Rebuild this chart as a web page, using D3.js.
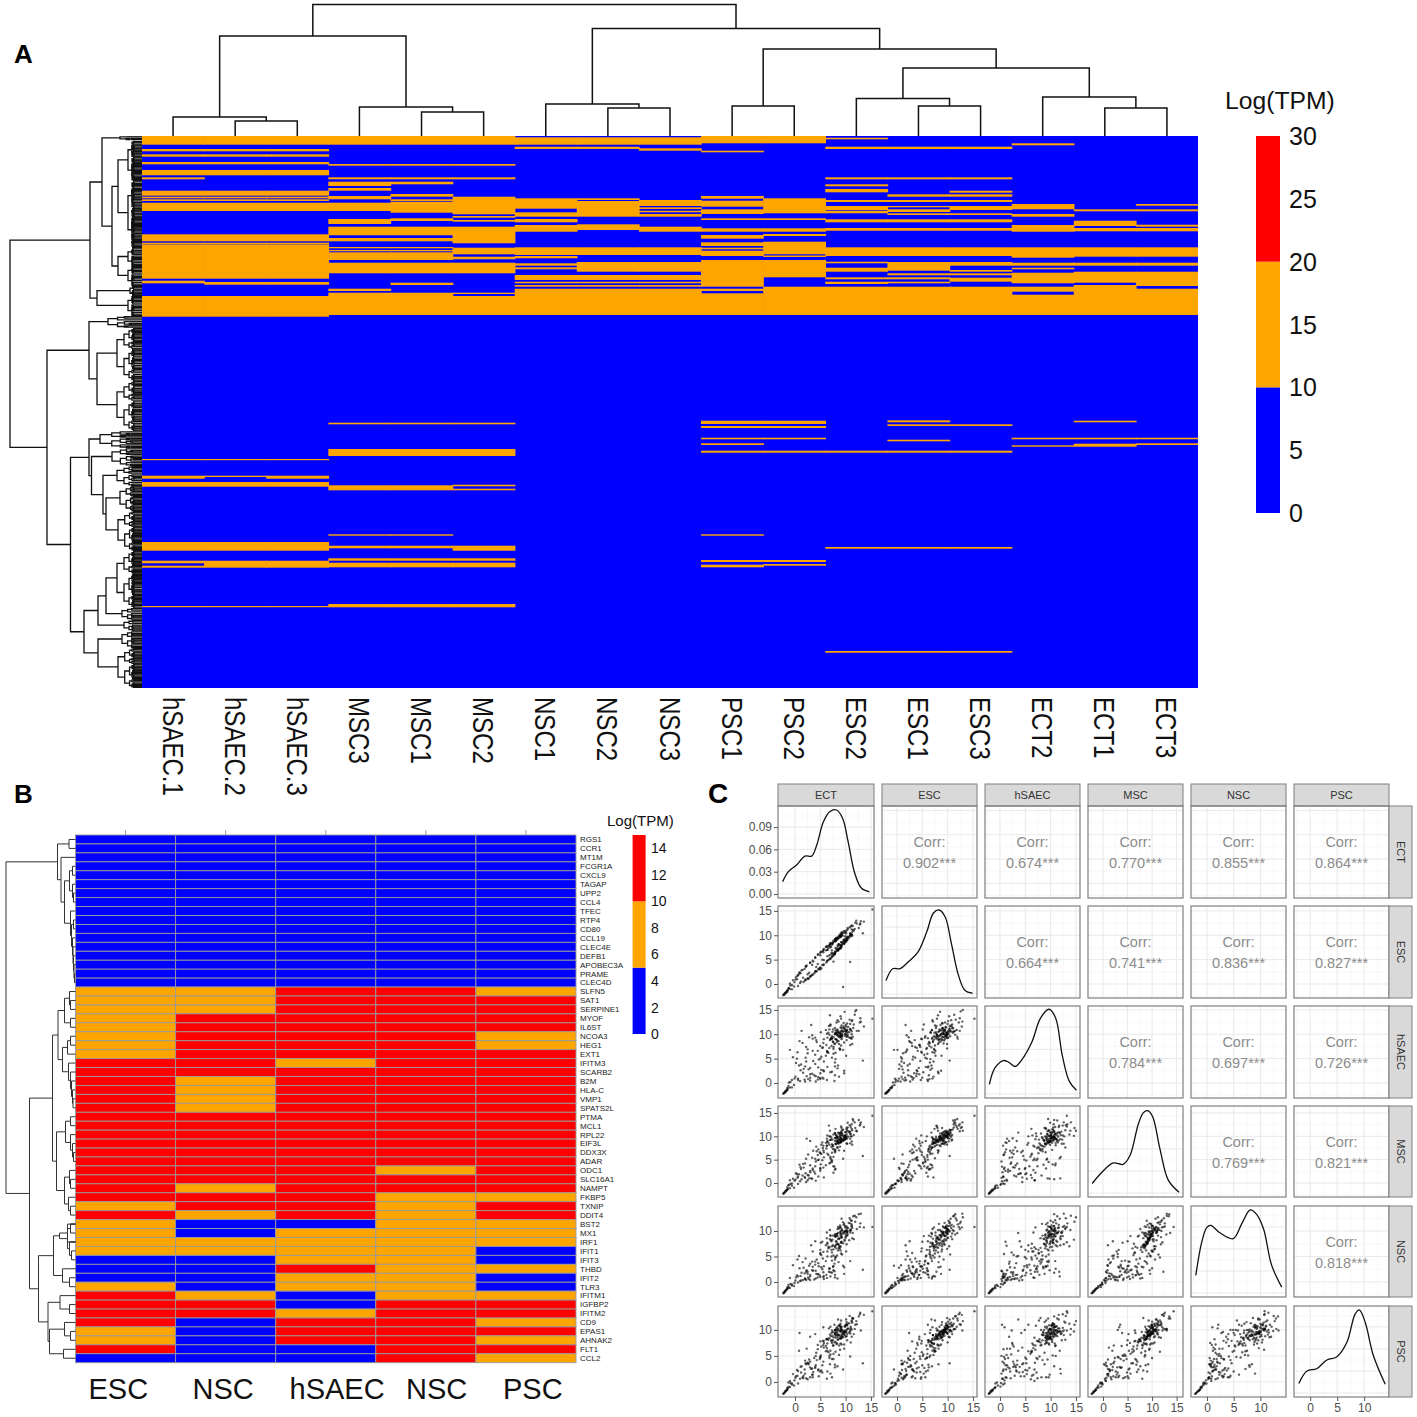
<!DOCTYPE html>
<html><head><meta charset="utf-8"><script src="https://cdn.jsdelivr.net/npm/d3@7"></script>
<style>html,body{margin:0;padding:0;background:#fff}svg{display:block}text{font-family:"Liberation Sans",Arial,sans-serif}</style></head>
<body><svg id="c" width="1417" height="1417" viewBox="0 0 1417 1417"></svg>
<script>
// ---------- Panel A data ----------
const samplesA=["hSAEC.1","hSAEC.2","hSAEC.3","MSC3","MSC1","MSC2","NSC1","NSC2","NSC3","PSC1","PSC2","ESC2","ESC1","ESC3","ECT2","ECT1","ECT3"];
const hsaecShared=[[0,8.7],[13,15.3],[18.3,20.7],[26,28.3],[34,39.3],[54.7,59.7],[60.7,62.3],[63.3,65],[66.7,75],[98.3,105.3],[106.7,108],[108.3,142.7],[160,180.7],[323,324.2],[346,350.7],[406,414.7],[470,471.2]];
const hsaec1=[[41.3,43.3],[144.7,147.3],[339.7,342.7],[424.7,427.3],[429.7,431.7]];
const hsaec2=[[146,148.7],[339.7,341],[424.7,431.7]];
const hsaec3=[[146,148.7],[339.7,342.7],[424.7,431.7]];
const msc3=[[0,8.7],[28,29.7],[41.3,43.3],[45.7,50],[52,54.7],[60,63.3],[66.7,75],[83,88],[90.7,99.3],[102,105.3],[111,112.3],[114,115.3],[116.3,124],[126.7,137.3],[152.7,155],[156.7,179],[286.7,288.3],[313,320],[349.3,354.3],[398.3,399.7],[409.7,412.3],[422.3,424.7],[426.7,431.3],[468,471.3]];
const msc1=[[0,8.7],[28,29.7],[41.3,43.3],[45.7,48.3],[58,60.7],[63.3,65],[65.7,76.7],[82.3,85],[90.7,99.3],[102,105.3],[111,112.3],[114,115.3],[116.3,124],[126.7,137.3],[146.7,149],[156.7,179],[286.7,288.3],[313,320],[349.3,354.3],[398.3,399.7],[409.7,412.3],[422.3,424.7],[426.7,431.3],[468,471.3]];
const msc2=[[0,8.7],[28,29.7],[41.3,43.3],[60.7,78.3],[80,81.7],[84,85.7],[90.7,107.3],[111.7,118.3],[120.7,123.3],[126.7,137.3],[156.7,158],[160,179],[286.7,288.3],[313,320],[348.7,350.3],[352.7,354.3],[409.7,414.7],[422.3,424.7],[426.7,431.3],[468,471.3]];
const nsc1=[[1.3,8.7],[10.7,13],[62.3,72.7],[76.3,80.7],[83,86.3],[89,95.7],[111.3,119],[120,122.3],[127.3,129.7],[131.3,133.3],[139,144],[145.7,147.3],[149,150.7],[152.7,179]];
const nsc2=[[1.3,8.7],[10.7,13],[62.3,64],[65,80.7],[88.3,94],[111.3,119],[126,135.7],[139,144],[145.7,147.3],[149,150.7],[152.7,179]];
const nsc3=[[1.3,8.7],[12.3,14.7],[64,70],[71.3,73],[74.7,76.3],[78,80.7],[90.7,95.7],[111.3,119],[126,135.7],[139,144],[145.7,147.3],[149,150.7],[152.7,179]];
const psc1=[[0,7.3],[14.7,16.3],[60,62.7],[64.7,70.7],[73.3,78],[82.3,84],[92.3,95.7],[99,102.7],[106.3,110],[111.7,113.3],[114.7,120],[124,150.7],[152.7,155],[157.3,179],[284.7,288],[290,292],[301.7,303.3],[307.3,309],[314.7,316.7],[398.3,399.7],[424,426],[428.7,431.3]];
const psc2=[[0,7.3],[62.3,77.3],[82.3,84],[92.3,95.7],[98,100],[105.7,118.3],[119.5,121],[124,141.3],[150.7,179],[284.7,288],[290,292],[301.7,303.3],[314.7,316.7],[424,426],[428,429.7]];
const esc2=[[1.7,3.3],[10.7,13],[41.3,43.3],[48.3,50.3],[53,56.3],[64,66],[70,74],[74.7,77.3],[83.3,86.3],[92,94.7],[111.3,120],[125.7,127.3],[131.7,135.7],[141.3,143.3],[145.7,148],[150.7,179],[314.7,316.7],[411,412.7],[515,516.7]];
const esc1=[[10.7,13],[41.3,43.3],[58.3,60.7],[64,66],[70,71.3],[73.3,76],[77.3,79],[83.3,86.3],[92,94.7],[111.3,120],[126,134.7],[137.3,139.3],[141.3,143.3],[145.7,147.3],[150.7,179],[284.3,286.3],[288.3,290],[303.7,305.3],[314.7,316.7],[411,412.7],[515,516.7]];
const esc3=[[10.7,13],[41.3,43.3],[54.7,56.7],[58.3,60.7],[64,66],[70,74],[77.3,79],[83.3,86.3],[92,94.7],[111.3,120],[126,129.7],[134,135.7],[137.3,139.3],[141.7,145.7],[150.7,179],[288.3,290],[314.7,316.7],[411,412.7],[515,516.7]];
const ect2=[[7.3,9.3],[68,73.3],[78,80.7],[89,95.7],[111.3,121.7],[126.7,129.7],[131.7,133.3],[136.7,147.3],[150.7,155.7],[158.7,179],[301.7,303.3],[309.3,310.7]];
const ect1=[[73.3,75.3],[84.7,90],[92,95.3],[111.3,120.7],[126.7,129.7],[135.7,146.7],[149,179],[284.7,286.3],[301.7,303.3],[307.7,310.7]];
const ect3=[[68,69.7],[73.3,75.3],[88.7,90.7],[92,95.3],[111.3,120.7],[126.7,129.7],[135.7,150],[152.7,179],[301.7,303.3],[307.3,309]];
const bandsA=[hsaecShared.concat(hsaec1),hsaecShared.concat(hsaec2),hsaecShared.concat(hsaec3),msc3,msc1,msc2,nsc1,nsc2,nsc3,psc1,psc2,esc2,esc1,esc3,ect2,ect1,ect3];
const lowValueA=5, midValueA=15;
const legendTicksA=[0,5,10,15,20,25,30];
// column dendrogram: [height, left, right]; numbers are sample indices
const treeTopA=[131.5,[100,[19,0,[15,1,2]],[29,3,[24,4,5]]],[107.5,[32,6,[28,7,8]],[87,[30,9,10],[68,[37.5,11,[30,12,13]],[39,14,[28,15,16]]]]]];
// row dendrogram: [height,left,right]; with two numbers = a terminal cluster over that row range
const treeLeftA=[132,
 [52,[40,[22,0,4],[30,[24,[14,5,45],[14,45,112]],[24,[14,112,130],[14,130,150]]]],[45,[12,150,160],[14,160,180]]],
 [95,[53,[34,180,192],[45,[25,192,245],[25,245,295]]],
  [71.5,[53,[42,295,312],[50.5,[30,312,330],[39,[25,330,350],[36,[22,350,375],[24,375,415]]]]],
        [58,[44,[36,[25,415,472],[20,472,484]],[18,484,495]],[44,[20,495,512],[24,512,552]]]]]];

// ---------- Panel B data ----------
const groupsB=["ESC","NSC","hSAEC","NSC","PSC"];
const genesB=["RGS1","CCR1","MT1M","FCGR1A","CXCL9","TAGAP","UPP2","CCL4","TFEC","RTP4","CD80","CCL19","CLEC4E","DEFB1","APOBEC3A","PRAME","CLEC4D","SLFN5","SAT1","SERPINE1","MYOF","IL6ST","NCOA3","HEG1","EXT1","IFITM3","SCARB2","B2M","HLA-C","VMP1","SPATS2L","PTMA","MCL1","RPL22","EIF3L","DDX3X","ADAR","ODC1","SLC16A1","NAMPT","FKBP5","TXNIP","DDIT4","BST2","MX1","IRF1","IFIT1","IFIT3","THBD","IFIT2","TLR3","IFITM1","IGFBP2","IFITM2","CD9","EPAS1","AHNAK2","FLT1","CCL2"];
const escB =[2,2,2,2,2,2,2,2,2,2,2,2,2,2,2,2,2, 8,8,8,8,8,8,8,8,12,12,12,12,12,12,12,12,12,12,12,12,12,12,12,12,8,12, 8,8,8,8,2,2,2,8,12,12,12,12,8,8,12,2];
const nscB1=[2,2,2,2,2,2,2,2,2,2,2,2,2,2,2,2,2, 8,8,8,12,12,12,12,12,12,12,8,8,8,8,12,12,12,12,12,12,12,12,8,12,12,8, 2,2,8,8,2,2,2,2,8,12,12,2,2,2,2,2];
const hsaeB=[2,2,2,2,2,2,2,2,2,2,2,2,2,2,2,2,2, 12,12,12,12,12,12,12,12,8,12,12,12,12,12,12,12,12,12,12,12,12,12,12,12,12,12, 2,8,8,8,8,12,8,8,2,2,8,12,12,12,2,2];
const nscB2=[2,2,2,2,2,2,2,2,2,2,2,2,2,2,2,2,2, 12,12,12,12,12,12,12,12,12,12,12,12,12,12,12,12,12,12,12,12,8,12,12,8,8,8, 8,8,8,8,8,8,8,8,8,12,12,12,12,12,12,12];
const pscB =[2,2,2,2,2,2,2,2,2,2,2,2,2,2,2,2,2, 8,12,12,12,12,8,8,12,12,12,12,12,12,12,12,12,12,12,12,12,12,12,12,8,12,12, 8,8,8,2,2,8,2,2,8,12,12,8,12,8,12,8];
const matrixB=[escB,nscB1,hsaeB,nscB2,pscB];
const legendTicksB=[0,2,4,6,8,10,12,14];
const treeLeftB=[69.5,
 [18,[6.5,0,1],[14.5,2,[11,[6,[3,3,4],[3,5,[2,6,7]]],[5,8,[4,[2,9,10],[3,11,[2.5,12,[2,13,[1.5,14,[1,15,16]]]]]]]]]],
 [46,[23,[17.5,[11,[6,17,[5,18,19]],[5,20,21]],[13,[8,[5,22,23],24],[7,25,[5,26,[4,27,[3,28,[2.5,29,30]]]]]]],
       [19,[10,[5,31,32],[5,33,[3,34,[2,35,36]]]],[11,[6,37,[5,38,39]],[7,40,[5,41,42]]]]],
      [37,[22,[16,[8,[5,43,44],[6,45,[4,46,47]]],[8,[5,43.5,43.5],[5,45.5,45.5]]],[13,48,[6,49,50]]],
          [27.5,[15.5,51,[6,52,53]],[26,[11,54,[5,55,56]],[12,57,58]]]]]];

// ---------- Panel C data (one value per transcript) ----------
const varsC=["ECT","ESC","hSAEC","MSC","NSC","PSC"];
const corrECT=["0.902","0.674","0.770","0.855","0.864"];
const corrESC=["0.664","0.741","0.836","0.827"];
const corrHSAEC=["0.784","0.697","0.726"];
const corrMSC=["0.769","0.821"];
const corrNSC=["0.818"];
const ectVals=[-2.3,-2.2,-2.1,-2.0,-1.9,-1.8,-1.7,-1.6,-1.5,-1.4,
-1.0,-1.5,-0.2,-1.2,-0.6,-0.6,-1.3,-0.1,-0.9,0.1,
1.0,0.2,0.6,2.0,1.1,-1.0,3.0,1.9,2.0,3.4,
2.5,4.1,1.7,0.6,2.2,3.8,-0.4,3.0,2.6,1.5,
5.0,0.5,4.1,2.2,3.5,4.6,0.8,5.4,3.0,4.0,
1.3,5.7,3.5,4.9,4.6,0.9,6.3,2.1,7.0,3.2,
4.7,5.0,6.2,4.0,2.3,7.3,2.7,6.6,5.6,5.2,
7.6,5.6,5.1,3.0,7.0,5.7,4.3,7.8,6.4,8.4,
4.0,6.1,7.9,5.0,8.5,6.8,8.9,4.5,6.9,8.0,
7.8,6.3,7.3,8.6,5.2,7.0,9.0,7.6,9.2,5.5,
6.8,8.3,7.5,8.7,7.2,6.9,9.1,8.0,7.6,6.3,
9.5,8.4,7.9,9.2,7.9,10.0,6.7,8.1,8.9,9.8,
9.0,7.9,8.9,9.7,8.6,10.3,9.1,7.2,7.6,8.1,
10.0,8.5,9.5,10.1,7.9,9.1,11.0,8.4,9.7,10.7,
9.3,10.3,9.5,8.7,9.6,10.2,8.2,11.2,7.9,11.0,
9.8,10.6,9.0,11.2,11.3,9.2,9.7,10.2,11.2,10.4,
10.9,11.3,11.0,10.1,11.8,11.2,11.6,10.8,12.2,11.5,
11.9,12.6,12.8,12.1,11.4,12.9,13.0,13.4,13.6,15.3,
6.6,8.4,7.4,9.1,8.0,8.3,9.8,8.9,10.1,9.2,
8.8,7.9,9.6,8.6,9.9,10.2,9.0,10.9,9.0,9.9,
5.6,7.3,7.2,6.4,8.2,7.1,9.2,8.2,9.4,10.5,
1.2,2.5,3.4,4.2,5.0,5.7,6.4,7.0,7.5,8.0,
0.4,1.6,2.8,3.6,4.5,5.4,6.1,6.8,7.3,8.7,
8.3,7.5,9.2,9.6,8.8,10.2,10.0,10.9,6.4,8.6,
8.0,8.5,8.4,9.3,9.0,9.2,9.9,10.3,10.9,10.4];
const escVals=[-2.3,-2.1,-2.2,-1.9,-1.8,-1.9,-1.6,-1.5,-1.6,-1.2,
-1.0,-1.3,-0.5,-0.8,-1.1,-0.2,-0.9,0.4,-0.3,0.9,
0.2,1.4,-0.4,0.7,2.2,0.1,1.6,3.1,0.9,1.9,
1.2,2.7,0.4,1.8,3.6,2.2,0.8,4.3,1.1,2.9,
3.4,1.7,2.6,0.9,4.8,3.0,2.1,3.9,1.5,5.4,
2.8,4.0,1.9,3.3,6.1,2.4,4.7,3.6,5.2,1.7,
3.1,6.4,4.4,2.5,3.8,5.6,1.1,4.9,7.0,3.2,
5.8,3.9,6.6,4.4,5.3,7.2,2.6,6.1,4.8,6.9,
5.5,7.6,6.3,3.0,6.8,5.1,7.4,6.0,8.2,6.6,
6.2,7.8,5.6,7.1,6.6,8.4,7.3,6.0,7.7,6.8,
7.9,6.9,8.6,7.2,6.1,8.1,7.5,6.7,8.9,7.6,
8.3,7.0,9.2,8.0,6.5,8.7,7.8,9.4,7.3,8.5,
7.6,8.9,9.8,8.2,7.1,9.0,10.1,8.4,4.6,9.3,
8.6,9.6,10.4,8.8,9.1,7.9,10.0,9.4,8.3,9.7,
10.5,9.2,-0.6,9.9,10.8,8.9,9.5,10.2,6.2,9.8,
10.9,9.4,10.3,11.2,9.9,10.6,8.7,11.0,10.1,11.5,
4.5,10.7,11.8,10.4,11.3,12.0,10.9,11.6,12.4,11.1,
12.6,11.5,12.2,13.0,11.9,12.4,12.9,10.4,12.8,15.3,
7.4,7.9,8.2,8.6,8.8,9.2,9.0,9.6,9.3,10.0,
8.0,8.7,9.1,9.4,9.8,9.5,10.0,10.3,9.7,10.5,
6.5,6.9,6.4,7.0,7.3,7.7,8.5,9.0,9.9,9.6,
0.5,2.0,3.9,3.5,5.9,4.9,5.7,7.5,6.3,7.4,
1.0,1.3,2.3,4.6,4.1,5.0,6.9,5.9,8.1,8.1,
7.1,8.4,8.0,8.9,9.9,9.1,10.7,10.0,7.0,8.2,
8.8,7.7,9.3,8.5,9.7,10.1,9.2,9.7,10.4,11.2];
const hsaecVals=[-2.2,-2.1,-2.0,-1.9,-1.7,-1.8,-1.5,-1.4,-1.5,-1.1,
-0.9,-1.0,-0.4,0.1,-0.9,0.6,-0.6,0.9,0.2,1.3,
0.4,4.1,0.9,0.3,2.6,6.8,1.1,0.7,3.4,9.8,
6.1,1.4,2.9,0.6,7.4,1.6,5.3,3.1,0.8,8.2,
2.0,6.3,0.3,4.4,9.1,1.2,3.6,7.2,0.5,5.8,
10.7,2.4,6.6,1.0,3.2,8.6,0.6,5.2,2.2,11.9,
4.8,0.8,7.8,3.9,1.4,9.6,2.8,6.2,0.9,5.4,
7.0,2.6,10.4,1.8,12.0,4.4,8.4,0.4,6.4,3.0,
9.3,5.6,1.6,7.6,3.6,11.0,6.8,0.7,8.8,4.9,
8.0,10.1,5.2,12.6,2.7,8.9,9.6,6.0,11.3,7.3,
9.9,10.8,8.5,1.3,9.2,13.9,7.7,10.3,9.4,6.6,
10.6,12.9,8.1,9.7,4.2,10.0,11.7,9.0,7.0,14.6,
9.5,11.3,10.2,2.0,8.6,12.2,10.7,9.1,7.4,10.0,
11.9,9.8,10.5,5.6,10.1,13.2,9.3,11.0,8.3,10.4,
9.6,10.9,6.8,10.2,11.6,8.8,12.4,10.0,3.4,9.2,
11.2,9.4,13.7,10.6,8.0,11.8,2.5,10.3,12.7,9.9,
7.8,12.9,10.9,11.6,14.0,9.1,12.0,13.0,10.7,11.3,
14.7,10.7,12.4,15.0,9.5,13.3,12.6,4.6,11.6,13.2,
10.3,9.8,10.5,9.9,10.8,10.2,11.1,9.6,10.7,10.1,
9.4,10.0,11.3,10.6,9.7,10.9,10.4,11.0,9.9,10.7,
8.2,9.1,7.6,9.3,8.9,9.2,9.7,10.4,9.9,11.5,
3.8,6.9,1.9,8.8,5.0,9.0,3.3,11.8,8.4,6.2,
5.0,2.1,9.4,4.5,6.6,1.1,10.9,7.2,2.3,8.0,
8.4,11.0,9.0,12.3,7.1,9.5,10.6,12.1,6.3,9.6,
9.0,10.4,8.7,10.8,11.4,9.3,10.1,9.7,11.1,10.5];
const mscVals=[-2.3,-2.2,-2.0,-2.0,-1.8,-1.7,-1.6,-1.5,-1.4,-1.3,
-1.1,-0.9,-1.0,-0.4,-0.6,-0.1,-0.5,0.5,-0.2,0.7,
0.4,2.1,-0.2,1.1,3.4,0.6,2.6,1.3,4.2,0.9,
1.7,0.5,3.3,1.4,5.2,2.4,0.9,3.8,6.1,1.6,
2.6,1.1,4.6,0.2,3.1,7.2,1.9,4.9,2.3,3.6,
0.8,5.5,2.8,6.6,1.4,3.9,8.0,2.1,4.4,1.0,
5.0,3.0,7.4,2.0,9.5,4.5,1.6,6.0,3.3,8.2,
2.2,7.0,4.0,9.0,5.6,1.2,6.8,3.5,10.2,7.6,
5.2,8.6,2.9,6.4,10.8,4.2,7.8,6.0,9.2,3.0,
7.2,9.5,4.8,8.4,6.2,10.0,8.8,5.6,9.0,7.5,
8.2,9.8,7.9,8.6,5.0,11.2,9.3,7.1,10.4,8.0,
9.1,7.6,10.6,8.9,6.6,9.6,12.3,8.3,9.4,10.1,
8.7,10.7,9.9,6.9,9.2,8.4,11.0,9.7,3.6,10.3,
9.4,8.8,11.4,10.0,9.0,12.1,10.5,8.6,9.8,10.9,
11.3,9.5,5.2,10.6,9.1,11.8,10.2,8.9,6.8,10.0,
9.3,11.1,10.4,12.6,8.2,10.7,9.6,11.5,10.0,12.9,
8.5,11.3,12.0,10.9,13.0,11.6,10.3,12.4,11.1,13.4,
11.8,13.5,12.3,11.2,13.7,12.6,13.0,5.8,12.0,14.4,
8.6,8.9,9.3,9.0,9.7,9.9,9.4,10.1,9.8,10.3,
9.2,9.6,10.2,9.5,10.0,10.4,9.7,10.5,10.8,10.2,
8.0,8.3,7.7,8.8,8.5,9.2,9.4,9.1,10.1,9.9,
3.0,0.6,5.4,7.8,3.2,6.6,9.0,5.3,7.3,11.6,
1.9,4.1,1.0,6.9,4.9,8.7,3.8,10.0,6.5,7.0,
9.6,8.1,11.8,9.3,10.6,8.5,9.9,11.0,6.3,8.8,
8.4,9.9,9.0,10.6,8.7,9.6,10.9,11.2,9.5,11.9];
const nscVals=[-2.2,-2.1,-2.0,-1.8,-1.8,-1.6,-1.5,-1.4,-1.3,-1.2,
-1.2,-1.0,-0.8,-1.0,-0.7,-0.5,-0.6,-0.2,-0.4,0.3,
0.2,0.9,-0.1,0.6,1.2,0.8,0.4,1.7,0.7,2.3,
1.6,0.7,2.8,1.1,2.0,0.5,3.3,1.4,0.9,3.9,
1.0,4.4,2.2,0.4,3.0,1.6,5.1,2.5,1.1,3.4,
1.8,0.6,6.0,1.3,3.7,2.7,0.8,4.6,1.9,7.2,
3.1,5.5,1.4,8.0,2.3,4.2,0.6,6.6,1.0,2.9,
5.2,1.9,7.7,3.6,9.0,1.2,4.4,2.1,6.0,0.7,
4.0,7.2,0.9,5.7,9.6,2.6,6.8,1.5,8.4,4.9,
3.6,8.6,1.8,7.4,5.3,9.2,6.2,2.3,7.9,4.6,
6.8,9.4,3.0,7.1,8.0,10.2,5.6,8.9,6.4,9.7,
7.6,10.4,4.4,8.8,6.9,9.9,2.0,7.3,10.7,8.3,
9.1,7.0,11.1,2.9,8.5,9.6,10.0,5.0,3.1,8.0,
8.7,10.8,11.7,6.0,9.3,7.8,10.3,9.0,11.4,8.2,
5.4,9.8,3.2,10.5,11.2,7.4,9.0,12.0,1.4,10.1,
9.5,11.6,7.0,10.9,8.6,12.4,1.6,10.2,11.0,9.3,
4.1,10.6,12.1,9.9,13.0,11.3,8.4,12.5,10.4,12.9,
11.8,13.3,10.8,12.7,9.6,11.5,13.4,2.4,10.7,10.8,
6.9,7.4,8.3,7.7,8.9,9.4,8.1,9.8,9.2,10.4,
8.6,9.0,9.7,8.4,10.0,10.6,9.4,10.1,10.8,11.0,
5.9,7.0,6.3,7.7,6.6,8.2,9.2,7.9,9.5,10.6,
0.3,2.0,4.0,1.6,6.3,3.1,5.0,1.1,9.1,4.8,
1.3,0.4,3.2,2.2,0.9,7.9,4.1,2.7,5.8,6.7,
5.2,7.2,8.8,9.9,6.5,10.9,8.9,9.7,7.5,3.9,
9.3,6.2,7.5,10.2,9.6,8.7,10.7,9.1,11.5,10.0];
const pscVals=[-2.3,-2.2,-2.1,-1.9,-1.9,-1.7,-1.7,-1.5,-1.5,-1.2,
-1.0,-1.1,-0.7,-0.9,-0.3,-0.5,-0.1,0.3,-0.2,0.8,
0.6,1.1,-0.3,1.6,2.9,0.2,0.9,2.4,4.1,1.4,
0.5,3.2,1.2,2.1,0.7,4.6,1.5,2.8,3.6,0.9,
2.0,1.2,5.0,3.4,0.9,2.4,6.0,1.8,3.9,2.7,
3.0,7.5,1.4,4.4,2.2,9.4,0.6,3.6,5.3,2.5,
1.1,4.8,8.2,2.9,6.4,0.9,3.4,5.7,10.5,2.2,
7.0,3.9,5.1,8.7,1.6,6.6,4.2,11.0,7.4,3.0,
9.2,5.9,2.8,7.8,12.0,5.0,8.5,6.3,3.4,10.0,
7.6,8.2,4.4,9.0,6.8,10.6,7.4,5.4,8.8,7.9,
8.4,7.4,9.6,5.2,8.0,9.1,11.8,7.7,8.6,6.5,
9.3,8.1,10.0,7.2,9.4,8.7,10.3,8.9,6.2,9.7,
8.3,9.9,10.8,6.4,9.0,8.0,10.5,9.4,4.4,10.1,
9.6,10.2,8.6,11.0,9.3,9.9,7.6,10.6,9.1,11.3,
10.0,9.2,2.4,10.9,9.7,11.5,10.4,8.7,3.3,10.3,
10.7,9.5,11.2,10.1,12.3,9.8,7.2,10.9,11.6,10.2,
4.9,11.4,10.6,12.0,10.2,11.8,9.2,12.7,11.1,12.2,
11.0,12.6,13.0,11.7,12.2,13.3,9.9,3.6,12.9,13.6,
8.1,8.6,8.9,8.4,9.2,9.5,9.0,9.8,9.6,10.1,
8.9,9.1,9.4,9.9,9.5,10.0,10.4,9.7,10.2,10.6,
7.1,7.5,7.8,8.3,7.3,8.8,9.1,9.6,9.3,10.3,
1.8,3.7,2.6,5.6,4.7,7.9,2.0,6.0,8.0,5.8,
2.3,0.7,4.3,1.9,7.1,3.2,6.9,4.6,9.9,7.0,
9.0,7.0,8.5,9.7,10.8,8.8,11.0,9.3,6.0,8.2,
8.5,9.2,10.0,8.8,9.6,10.6,9.9,10.9,10.0,11.2];
const densECT=[[-2.43,.0166],[-1.3,.03],[.33,.039],[1.97,.051],[3.3,.051],[4.3,.066],[5.6,.097],[6.9,.111],[8.2,.113],[9.4,.102],[10.5,.07],[11.8,.028],[13.1,.008],[14.7,.003]];
const densESC=[[-2.17,.018],[-.85,.034],[.6,.034],[2.2,.043],[4.2,.057],[5.9,.084],[7.2,.109],[8.3,.113],[9.5,.104],[10.8,.066],[12.1,.026],[13.4,.005],[14.9,.001]];
const densHSAEC=[[-2.1,.013],[-1,.035],[.66,.045],[1.65,.043],[3,.037],[4.3,.046],[6.3,.07],[8,.102],[9.7,.114],[11,.102],[12.3,.052],[13.7,.017],[15.1,.005]];
const densMSC=[[-2.2,.013],[-.27,.028],[2.1,.041],[4.1,.039],[5.5,.051],[7.2,.094],[8.2,.109],[9.1,.112],[10.1,.104],[11.6,.06],[13.3,.0175],[15.5,.001]];
const densNSC=[[-2.1,.024],[-1,.069],[-.06,.089],[.7,.092],[2.4,.082],[4.9,.074],[6.5,.094],[8.1,.113],[9.3,.107],[10.6,.087],[12.1,.038],[14,.008]];
const densPSC=[[-2.1,.013],[-.6,.03],[1.2,.033],[3.1,.045],[4.9,.049],[6.8,.069],[8.3,.107],[9.1,.113],[10.2,.096],[11.7,.051],[13.9,.012]];
const xTicksC=[[0,5,10,15],[0,5,10,15],[0,5,10,15],[0,5,10,15],[0,5,10],[0,5,10]];
const yTicksC=[[0,.03,.06,.09],[0,5,10,15],[0,5,10,15],[0,5,10,15],[0,5,10],[0,5,10]];

// ---------- Layout ----------
const svg=d3.select("#c");
const BLUE="#0000ff",ORANGE="#ffa500",RED="#ff0000";
const colourA=d3.scaleThreshold([10,20],[BLUE,ORANGE,RED]);
const colourB=d3.scaleThreshold([5,10],[BLUE,ORANGE,RED]);
function letter(t,x,y,size){svg.append("text").attr("x",x).attr("y",y).attr("font-size",size).attr("font-weight","bold").text(t);}
letter("A",14,63,26);letter("B",14,803,26);letter("C",708,803,28);

function drawTree(g,node,pt,leafPos,isFan,fan){
  if(typeof node==="number") return {p:leafPos(node),h:0};
  if(isFan&&isFan(node)) return fan(node);
  const a=drawTree(g,node[1],pt,leafPos,isFan,fan),b=drawTree(g,node[2],pt,leafPos,isFan,fan),h=node[0];
  const P=(p,hh)=>pt(p,hh).join(",");
  g.append("path").attr("d",`M${P(a.p,a.h)}L${P(a.p,h)}L${P(b.p,h)}L${P(b.p,b.h)}`);
  return {p:(a.p+b.p)/2,h};
}

// ---------- Panel A ----------
const xA=d3.scaleBand(samplesA,[142,1198]);
const yA=d3.scaleLinear([0,552],[136,688]);
const gTop=svg.append("g").attr("fill","none").attr("stroke","#111").attr("stroke-width",1.5);
const topH=d3.scaleLinear([0,131.5],[136,4.5]);
drawTree(gTop,treeTopA,(p,h)=>[p,topH(h)],i=>xA(samplesA[i])+xA.bandwidth()/2);
const leftH=d3.scaleLinear([0,132],[142,10]);
const gLeft=svg.append("g").attr("fill","none").attr("stroke","#111").attr("stroke-width",1.3);
const step=1.85;
function fanSplit(a,b,h,depth){
  if(b-a<=step){const m=(a+b)/2;gLeft.append("path").attr("d",`M${leftH(h)},${yA(m)}H142`);return m;}
  const s=a+(b-a)*(depth%2?0.62:0.4),nh=Math.max(8+depth%3,h*0.72);
  const p1=fanSplit(a,s,nh,depth+1),p2=fanSplit(s,b,nh,depth+1);
  gLeft.append("path").attr("d",`M${leftH(nh)},${yA(p1)}H${leftH(h)}V${yA(p2)}H${leftH(nh)}`);
  return (p1+p2)/2;
}
drawTree(gLeft,treeLeftA,(p,h)=>[leftH(h),yA(p)],null,
  n=>typeof n[1]==="number"&&typeof n[2]==="number",
  n=>({p:fanSplit(n[1],n[2],n[0],0),h:n[0]}));
const gHeat=svg.append("g");
gHeat.append("rect").attr("x",xA.range()[0]).attr("y",yA(0)).attr("width",xA.range()[1]-xA.range()[0]).attr("height",yA(552)-yA(0)).attr("fill",colourA(lowValueA));
samplesA.forEach((s,i)=>{
  gHeat.selectAll(null).data(bandsA[i]).join("rect").attr("x",xA(s)).attr("width",xA.bandwidth()+(i<16?.7:0))
    .attr("y",d=>yA(d[0])).attr("height",d=>yA(d[1])-yA(d[0])).attr("fill",colourA(midValueA));
});
samplesA.forEach(s=>{
  const c=xA(s)+xA.bandwidth()/2;
  svg.append("text").attr("transform",`translate(${c-10.5},697) rotate(90) scale(.83,1)`).attr("font-size",29).attr("fill","#111").text(s);
});
const legA=d3.scaleLinear([0,30],[513,136]);
[[0,10],[10,20],[20,30]].forEach(d=>svg.append("rect").attr("x",1256).attr("width",24).attr("y",legA(d[1])).attr("height",legA(d[0])-legA(d[1])).attr("fill",colourA(d[0]+1)));
svg.selectAll(null).data(legendTicksA).join("text").attr("x",1289).attr("y",d=>legA(d)).attr("dy","0.36em").attr("font-size",25).attr("fill","#111").text(d=>d);
svg.append("text").attr("x",1225).attr("y",109).attr("font-size",24.7).attr("fill","#111").text("Log(TPM)");

// ---------- Panel B ----------
const xB=d3.scaleBand(d3.range(5),[75.5,576]);
const yB=d3.scaleBand(genesB,[835,1362.7]);
const gB=svg.append("g");
const leftB=d3.scaleLinear([0,69.5],[75.5,6]);
const gTB=svg.append("g").attr("fill","none").attr("stroke","#333").attr("stroke-width",1);
drawTree(gTB,treeLeftB,(p,h)=>[leftB(h),p],i=>yB(genesB[Math.floor(i)])+yB.bandwidth()/2);
matrixB.forEach((col,ci)=>{
  gB.selectAll(null).data(col).join("rect").attr("x",xB(ci)).attr("width",xB.bandwidth())
    .attr("y",(d,i)=>yB(genesB[i])).attr("height",yB.bandwidth()).attr("fill",d=>colourB(d))
    .attr("stroke","#999").attr("stroke-width",.9);
});
svg.selectAll(null).data(d3.range(5)).join("line").attr("x1",d=>xB(d)+xB.bandwidth()/2).attr("x2",d=>xB(d)+xB.bandwidth()/2)
  .attr("y1",830).attr("y2",835).attr("stroke","#888").attr("stroke-width",.8);
svg.selectAll(null).data(genesB).join("text").attr("x",580).attr("y",d=>yB(d)+yB.bandwidth()/2).attr("dy","0.36em").attr("font-size",8).attr("fill","#222").text(d=>d);
const groupLabelX=[88.5,192.5,289.5,406,503];
groupsB.forEach((g,i)=>svg.append("text").attr("x",groupLabelX[i]).attr("y",1399).attr("font-size",29).attr("fill","#111").text(g));
const legB=d3.scaleLinear([0,15],[1034,835]);
[[0,5],[5,10],[10,15]].forEach(d=>svg.append("rect").attr("x",632.6).attr("width",13).attr("y",legB(d[1])).attr("height",legB(d[0])-legB(d[1])).attr("fill",colourB(d[0]+1)));
svg.selectAll(null).data(legendTicksB).join("text").attr("x",651).attr("y",d=>legB(d)).attr("dy","0.36em").attr("font-size",14).attr("fill","#111").text(d=>d);
svg.append("text").attr("x",607).attr("y",826).attr("font-size",15).attr("fill","#111").text("Log(TPM)");

// ---------- Panel C ----------
const valuesC=[ectVals,escVals,hsaecVals,mscVals,nscVals,pscVals];
const densC=[densECT,densESC,densHSAEC,densMSC,densNSC,densPSC];
const corrRows=[corrECT,corrESC,corrHSAEC,corrMSC,corrNSC];
const colEdges=[[778,874],[882,977],[985,1080],[1088,1183],[1191,1286],[1294,1389]];
const rowEdges=[[806,898],[906,998],[1006,1098],[1106,1197],[1206,1297],[1306,1397]];
const xDom=[[-3.35,15.6],[-2.96,15.8],[-2.96,15.8],[-3.06,16.3],[-3,14.8],[-3,14.6]];
const yDom=[[-3,15.9],[-2.87,16],[-3.08,15.8],[-3,16.5],[-2.94,14.9],[-2.9,14.6]];
const xS=colEdges.map((e,i)=>d3.scaleLinear(xDom[i],e));
const yS=rowEdges.map((e,i)=>d3.scaleLinear(yDom[i],[e[1],e[0]]));
const dS=rowEdges.map(e=>d3.scaleLinear([-.0054,.1184],[e[1],e[0]]));
const tC="#4d4d4d";
function minors(t){const o=[];for(let i=0;i<t.length-1;i++)o.push((t[i]+t[i+1])/2);const d=t[1]-t[0];o.unshift(t[0]-d/2);o.push(t[t.length-1]+d/2);return o;}
function grid(g,xs,ys,tx,ty,c,r){
  const [x0,x1]=colEdges[c],[y0,y1]=rowEdges[r];
  const vl=(vals,w,col)=>vals.map(xs).filter(p=>p>x0&&p<x1).forEach(p=>g.append("line").attr("x1",p).attr("x2",p).attr("y1",y0).attr("y2",y1).attr("stroke",col).attr("stroke-width",w));
  const hl=(vals,w,col)=>vals.map(ys).filter(p=>p>y0&&p<y1).forEach(p=>g.append("line").attr("y1",p).attr("y2",p).attr("x1",x0).attr("x2",x1).attr("stroke",col).attr("stroke-width",w));
  vl(minors(tx),.5,"#f0f0f0");hl(minors(ty),.5,"#f0f0f0");vl(tx,.9,"#e6e6e6");hl(ty,.9,"#e6e6e6");
}
varsC.forEach((cv,c)=>{
  const [x0,x1]=colEdges[c];
  svg.append("rect").attr("x",x0).attr("y",784).attr("width",x1-x0).attr("height",22).attr("fill","#d9d9d9").attr("stroke","#7f7f7f").attr("stroke-width",1);
  svg.append("text").attr("x",(x0+x1)/2).attr("y",795).attr("dy","0.36em").attr("text-anchor","middle").attr("font-size",11).attr("fill","#333").text(cv);
  varsC.forEach((rv,r)=>{
    const [y0,y1]=rowEdges[r];
    const g=svg.append("g");
    const ys=(c===r)?dS[r]:yS[r], ty=(c===r)?yTicksC[0]:(r===0?[0,5,10,15]:yTicksC[r]);
    grid(g,xS[c],ys,xTicksC[c],ty,c,r);
    if(c===r){
      g.append("path").attr("d",d3.line().curve(d3.curveCatmullRom.alpha(.5)).x(d=>xS[c](d[0])).y(d=>dS[r](d[1]))(densC[c]))
       .attr("fill","none").attr("stroke","#111").attr("stroke-width",1.3);
    }else if(c>r){
      const v=corrRows[r][c-r-1],my=(y0+y1)/2,mx=(x0+x1)/2;
      g.append("text").attr("x",mx).attr("y",my-10).attr("dy","0.36em").attr("text-anchor","middle").attr("font-size",14.5).attr("fill","#8c8c8c").text("Corr:");
      g.append("text").attr("x",mx).attr("y",my+11).attr("dy","0.36em").attr("text-anchor","middle").attr("font-size",14.5).attr("fill","#8c8c8c").text(v+"***");
    }else{
      g.selectAll("circle").data(valuesC[c]).join("circle").attr("cx",d=>xS[c](d)).attr("cy",(d,i)=>yS[r](valuesC[r][i])).attr("r",1.2).attr("fill","#000").attr("opacity",.62);
    }
    g.append("rect").attr("x",x0).attr("y",y0).attr("width",x1-x0).attr("height",y1-y0).attr("fill","none").attr("stroke","#7f7f7f").attr("stroke-width",1.2);
    if(c===0){
      const ax=d3.axisLeft(r===0?dS[0]:yS[r]).tickValues(yTicksC[r]).tickSize(4).tickPadding(2).tickFormat(r===0?d3.format(".2f"):d3.format("d"));
      const ag=svg.append("g").attr("transform",`translate(${x0},0)`).call(ax);
      ag.select(".domain").remove();ag.selectAll("line").attr("stroke","#555");ag.selectAll("text").attr("font-size",12).attr("fill",tC).attr("font-family","Liberation Sans");
    }
    if(r===5){
      const ax=d3.axisBottom(xS[c]).tickValues(xTicksC[c]).tickSize(4).tickPadding(2).tickFormat(d3.format("d"));
      const ag=svg.append("g").attr("transform",`translate(0,${y1})`).call(ax);
      ag.select(".domain").remove();ag.selectAll("line").attr("stroke","#555");ag.selectAll("text").attr("font-size",12).attr("fill",tC).attr("font-family","Liberation Sans");
    }
    if(c===5){
      svg.append("rect").attr("x",1389).attr("y",y0).attr("width",23).attr("height",y1-y0).attr("fill","#d9d9d9").attr("stroke","#7f7f7f").attr("stroke-width",1);
      svg.append("text").attr("transform",`translate(1400.5,${(y0+y1)/2}) rotate(90)`).attr("dy","0.36em").attr("text-anchor","middle").attr("font-size",11).attr("fill","#333").text(rv);
    }
  });
});
</script></body></html>
